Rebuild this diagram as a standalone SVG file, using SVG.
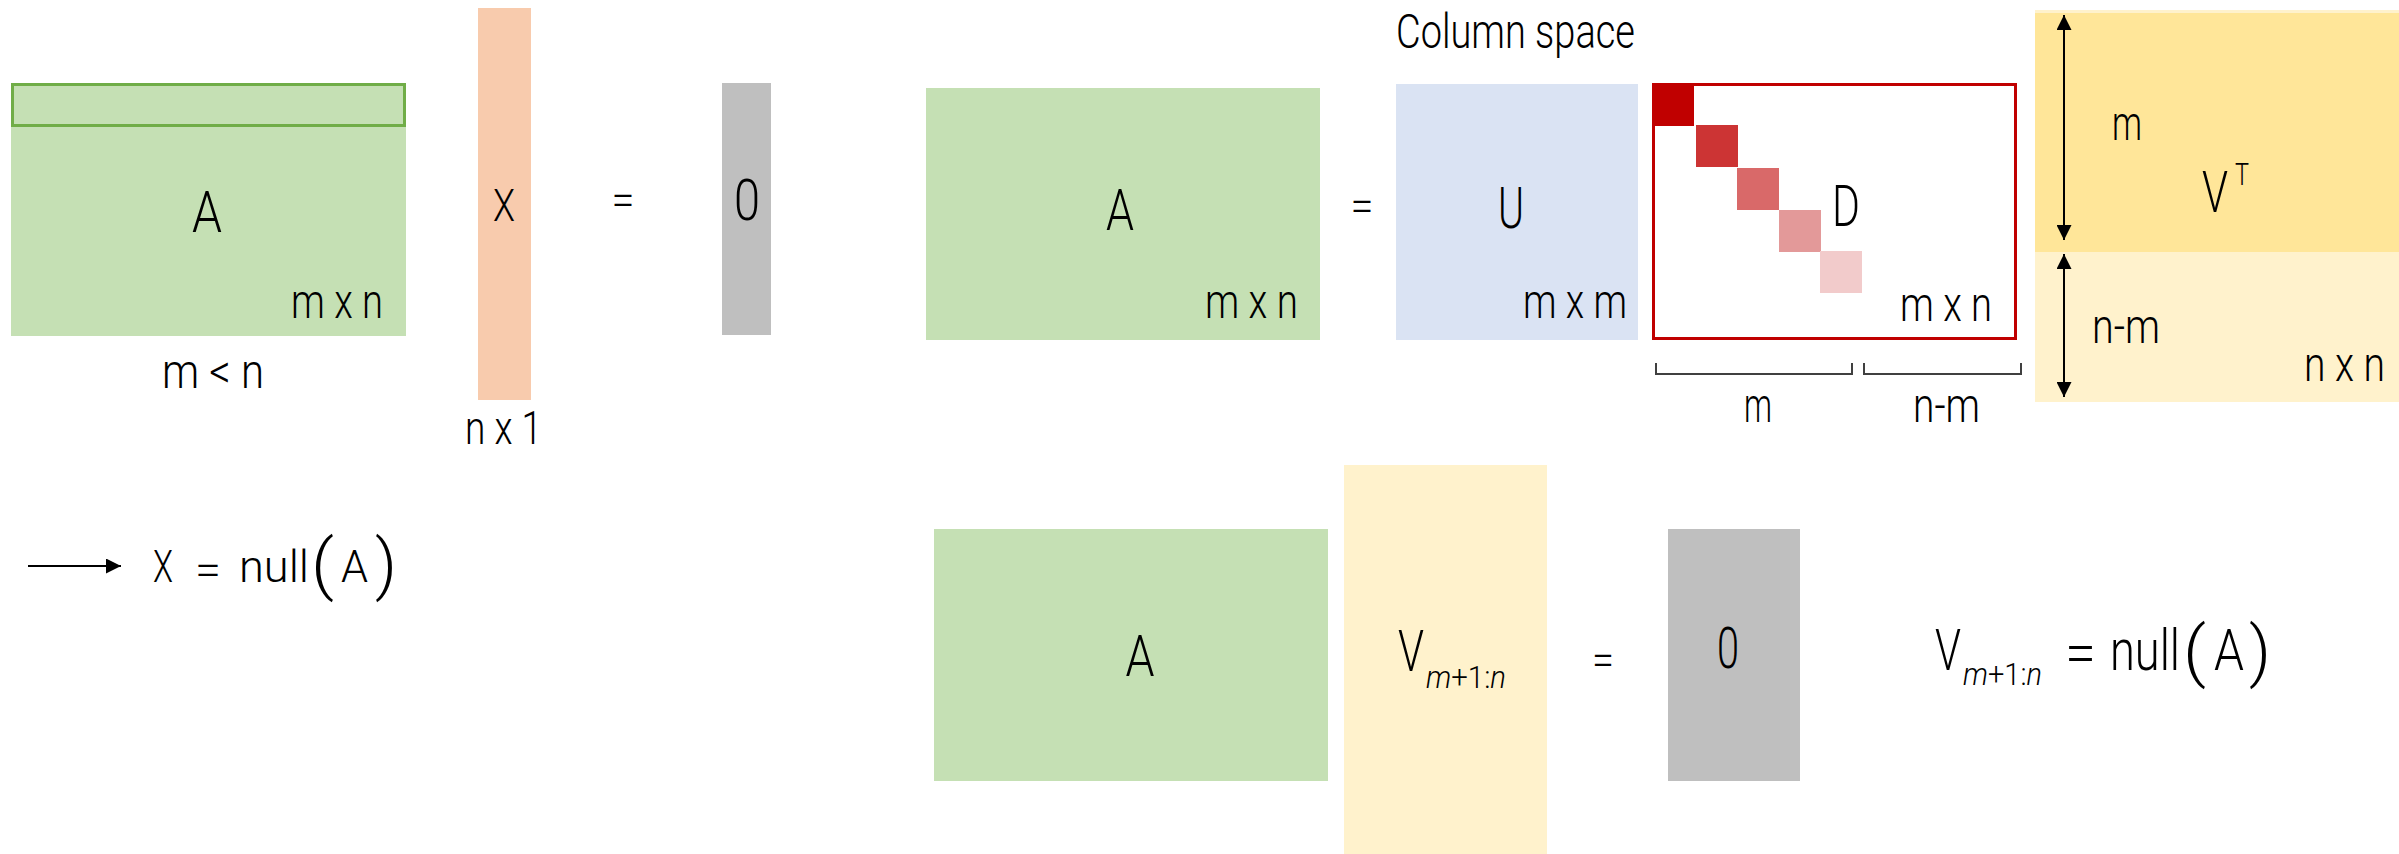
<svg xmlns="http://www.w3.org/2000/svg" width="2399" height="854" viewBox="0 0 2399 854">
<style>
text{font-family:Roboto,"Liberation Sans",sans-serif;font-weight:300;fill:#000}
.big{font-size:58px;text-anchor:middle}
.dim{font-size:48px}
.mid{font-size:46px}
.it{font-style:italic}
.green{fill:#C5E0B4}
.gray{fill:#BFBFBF}
.br{fill:none;stroke:#404040;stroke-width:2}
.arr{stroke:#000;stroke-width:2;fill:none}
</style>
<defs>
<marker id="ah" viewBox="0 0 10 10" refX="10" refY="5" markerWidth="7.5" markerHeight="7.5" markerUnits="strokeWidth" orient="auto-start-reverse">
<path d="M0,0 L10,5 L0,10 Z" fill="#000"/>
</marker>
</defs>

<g id="matrixA1">
<rect class="green" x="11" y="83" width="395" height="253"/>
<rect x="12.5" y="84.5" width="392" height="41" fill="none" stroke="#70AD47" stroke-width="3"/>
<text class="big" x="207" y="232" textLength="30" lengthAdjust="spacingAndGlyphs">A</text>
<text class="dim" x="291" y="318" textLength="92" lengthAdjust="spacingAndGlyphs">m x n</text>
<text class="dim" x="162" y="388" textLength="102" lengthAdjust="spacingAndGlyphs">m &lt; n</text>
</g>

<g id="vectorX">
<rect x="478" y="8" width="53" height="392" fill="#F8CBAD"/>
<text x="504" y="221" font-size="44" text-anchor="middle" textLength="22" lengthAdjust="spacingAndGlyphs">X</text>
<text class="mid" x="465" y="444" textLength="77" lengthAdjust="spacingAndGlyphs">n x 1</text>
</g>

<g id="eq1">
<text x="623" y="215" font-size="44" text-anchor="middle" textLength="23" lengthAdjust="spacingAndGlyphs">=</text>
</g>

<g id="zero1">
<rect class="gray" x="722" y="83" width="49" height="252"/>
<text x="747" y="220" font-size="57" text-anchor="middle" textLength="26" lengthAdjust="spacingAndGlyphs">0</text>
</g>

<g id="matrixA2">
<rect class="green" x="926" y="88" width="394" height="252"/>
<text class="big" x="1120" y="230" textLength="28" lengthAdjust="spacingAndGlyphs">A</text>
<text class="dim" x="1205" y="318" textLength="93" lengthAdjust="spacingAndGlyphs">m x n</text>
</g>

<g id="eq2">
<text x="1362" y="221" font-size="44" text-anchor="middle" textLength="23" lengthAdjust="spacingAndGlyphs">=</text>
</g>

<g id="matrixU">
<text x="1396" y="48" font-size="49" textLength="239" lengthAdjust="spacingAndGlyphs">Column space</text>
<rect x="1396" y="84" width="242" height="256" fill="#DAE3F3"/>
<text class="big" x="1511" y="228" textLength="26" lengthAdjust="spacingAndGlyphs">U</text>
<text class="dim" x="1523" y="318" textLength="104" lengthAdjust="spacingAndGlyphs">m x m</text>
</g>

<g id="matrixD">
<rect x="1653.5" y="84.5" width="362" height="254" fill="#FFFFFF" stroke="#C00000" stroke-width="3"/>
<rect x="1652" y="83" width="42" height="43" fill="#C00000"/>
<rect x="1696" y="125" width="42" height="42" fill="#CC3434"/>
<rect x="1737" y="168" width="42" height="42" fill="#D96969"/>
<rect x="1779" y="210" width="42" height="42" fill="#E39999"/>
<rect x="1820" y="251" width="42" height="42" fill="#F2CBCB"/>
<text class="big" x="1846" y="226" textLength="28" lengthAdjust="spacingAndGlyphs">D</text>
<text class="dim" x="1900" y="321" textLength="92" lengthAdjust="spacingAndGlyphs">m x n</text>
<text class="dim" x="1744" y="422" textLength="28" lengthAdjust="spacingAndGlyphs">m</text>
<text class="dim" x="1913" y="422" textLength="67" lengthAdjust="spacingAndGlyphs">n-m</text>
</g>

<g id="matrixVT">
<rect x="2035" y="10" width="364" height="392" fill="#FFF2CC"/>
<rect x="2035" y="13" width="364" height="239" fill="#FFE699"/>
<text class="dim" x="2112" y="140" textLength="30" lengthAdjust="spacingAndGlyphs">m</text>
<text x="2202" y="212" font-size="58"><tspan textLength="26" lengthAdjust="spacingAndGlyphs">V</tspan><tspan x="2235" y="185" font-size="32" textLength="14" lengthAdjust="spacingAndGlyphs">T</tspan></text>
<text class="dim" x="2092" y="343" textLength="68" lengthAdjust="spacingAndGlyphs">n-m</text>
<text class="dim" x="2304" y="381" textLength="81" lengthAdjust="spacingAndGlyphs">n x n</text>
</g>

<g id="nullFormula1">
<text y="582" font-size="45"><tspan x="153" textLength="20" lengthAdjust="spacingAndGlyphs">X</tspan><tspan x="195" y="585" textLength="26" lengthAdjust="spacingAndGlyphs">=</tspan><tspan x="239" y="582" textLength="70" lengthAdjust="spacingAndGlyphs">null</tspan><tspan x="311" y="587" font-size="66" textLength="23" lengthAdjust="spacingAndGlyphs">(</tspan><tspan x="341" y="582" textLength="27" lengthAdjust="spacingAndGlyphs">A</tspan><tspan x="375" y="587" font-size="66" textLength="22" lengthAdjust="spacingAndGlyphs">)</tspan></text>
</g>

<g id="matrixA3">
<rect class="green" x="934" y="529" width="394" height="252"/>
<text class="big" x="1140" y="676" textLength="29" lengthAdjust="spacingAndGlyphs">A</text>
</g>

<g id="matrixV">
<rect x="1344" y="465" width="203" height="389" fill="#FFF2CC"/>
<text x="1398" y="671" font-size="58"><tspan textLength="26" lengthAdjust="spacingAndGlyphs">V</tspan><tspan x="1426" y="688" font-size="32" textLength="80" lengthAdjust="spacingAndGlyphs"><tspan class="it">m</tspan>+1:<tspan class="it">n</tspan></tspan></text>
</g>

<g id="eq3">
<text x="1603" y="675" font-size="44" text-anchor="middle" textLength="22" lengthAdjust="spacingAndGlyphs">=</text>
</g>

<g id="zero2">
<rect class="gray" x="1668" y="529" width="132" height="252"/>
<text x="1728" y="668" font-size="58" text-anchor="middle" textLength="22" lengthAdjust="spacingAndGlyphs">0</text>
</g>

<g id="nullFormula2">
<text x="1935" y="670" font-size="58"><tspan textLength="26" lengthAdjust="spacingAndGlyphs">V</tspan><tspan x="1963" y="685" font-size="32" textLength="79" lengthAdjust="spacingAndGlyphs"><tspan class="it">m</tspan>+1:<tspan class="it">n</tspan></tspan><tspan x="2065" y="673" textLength="31" lengthAdjust="spacingAndGlyphs">=</tspan><tspan x="2110" y="670" textLength="70" lengthAdjust="spacingAndGlyphs">null</tspan><tspan x="2183" y="674" font-size="66" textLength="23" lengthAdjust="spacingAndGlyphs">(</tspan><tspan x="2214" y="670" textLength="30" lengthAdjust="spacingAndGlyphs">A</tspan><tspan x="2249" y="674" font-size="66" textLength="22" lengthAdjust="spacingAndGlyphs">)</tspan></text>
</g>

<g id="connectors">
<line class="arr" x1="28" y1="566" x2="121" y2="566" marker-end="url(#ah)"/>
<line class="arr" x1="2064" y1="15" x2="2064" y2="240" marker-start="url(#ah)" marker-end="url(#ah)"/>
<line class="arr" x1="2064" y1="254" x2="2064" y2="397" marker-start="url(#ah)" marker-end="url(#ah)"/>
<path class="br" d="M1656,363 V374 H1852 V363"/>
<path class="br" d="M1864,363 V374 H2021 V363"/>
</g>
</svg>
